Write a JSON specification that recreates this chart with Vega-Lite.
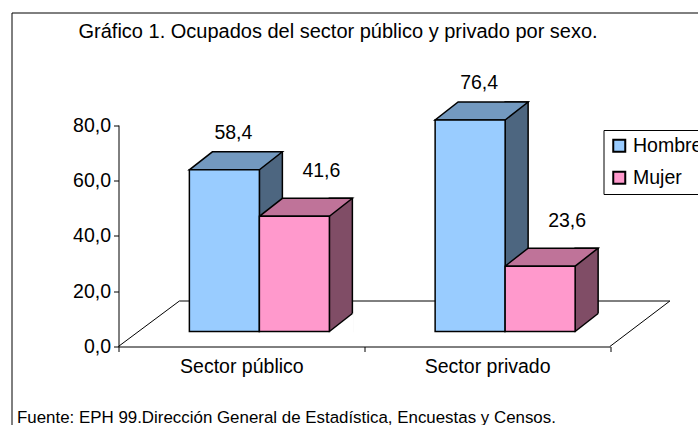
{
  "$schema": "https://vega.github.io/schema/vega-lite/v6.json",
  "width": 690,
  "height": 416,
  "autosize": {"type": "none"},
  "padding": {"left": 11.5, "top": 12.5, "right": -3.5, "bottom": -3.5},
  "background": "white",
  "title": {
    "text": "Gráfico 1. Ocupados del sector público y privado por sexo.",
    "anchor": "start",
    "frame": "group",
    "dx": 67,
    "dy": 19.5,
    "offset": -26,
    "baseline": "alphabetic",
    "font": "Liberation Sans",
    "fontSize": 20,
    "fontWeight": "normal",
    "color": "black"
  },
  "data": {
    "values": [
      {"sector": "Sector público", "sex": "Hombre", "value": 58.4},
      {"sector": "Sector público", "sex": "Mujer", "value": 41.6},
      {"sector": "Sector privado", "sex": "Hombre", "value": 76.4},
      {"sector": "Sector privado", "sex": "Mujer", "value": 23.6}
    ]
  },
  "config": {
    "font": "Liberation Sans",
    "view": {"stroke": "black", "strokeWidth": 1},
    "locale": {"number": {"decimal": ",", "thousands": ".", "grouping": [3], "currency": ["$", ""]}},
    "axis": {
      "grid": false,
      "domainColor": "black",
      "tickColor": "black",
      "labelColor": "black",
      "labelFont": "Liberation Sans",
      "labelFontSize": 19.5,
      "tickSize": 5,
      "domainWidth": 1,
      "tickWidth": 1
    },
    "axisX": {
      "offset": -82,
      "tickBand": "extent",
      "labelAngle": 0,
      "labelPadding": 6,
      "titleX": 5,
      "titleY": 75.5,
      "titleAlign": "left",
      "titleBaseline": "alphabetic",
      "titleFont": "Liberation Sans",
      "titleFontSize": 16.9,
      "titleFontWeight": "normal",
      "titleColor": "black"
    },
    "axisY": {"offset": -107, "tickCount": 4, "format": ".1f", "labelPadding": 3},
    "legend": {
      "orient": "none",
      "legendX": 592,
      "legendY": 117.5,
      "symbolType": "square",
      "symbolSize": 144,
      "symbolStrokeColor": "black",
      "symbolStrokeWidth": 2,
      "symbolOpacity": 1,
      "labelFont": "Liberation Sans",
      "labelFontSize": 19.5,
      "labelColor": "black",
      "labelOffset": 4,
      "strokeColor": "black",
      "fillColor": "white",
      "padding": 6,
      "rowPadding": 11
    }
  },
  "encoding": {
    "x": {
      "field": "sector",
      "type": "nominal",
      "scale": {"domain": ["Sector público", "Sector privado"], "range": [107, 598.5], "paddingInner": 0, "paddingOuter": 0},
      "axis": {"title": "Fuente: EPH 99.Dirección General de Estadística, Encuestas y Censos."}
    },
    "y": {
      "field": "value",
      "type": "quantitative",
      "scale": {"domain": [0, 80], "range": [334, 112.5], "nice": false, "zero": true},
      "axis": {"title": null}
    }
  },
  "layer": [
    {
      "transform": [{"filter": "datum.sector === 'Sector público' && datum.sex === 'Hombre'"}],
      "mark": {"type": "point", "shape": "M-123,0L-62,-45.5L428.5,-45.5L368.5,0", "size": 4, "filled": false, "color": "black", "strokeWidth": 1, "opacity": 1},
      "encoding": {"y": {"datum": 0, "type": "quantitative"}}
    },
    {
      "transform": [{"filter": "datum.sex === 'Hombre'"}],
      "mark": {"type": "bar", "width": 23, "xOffset": 29.5, "yOffset": -33, "y2Offset": -15, "fill": "#4d6680", "stroke": "black", "strokeWidth": 1.5},
      "encoding": {"y2": {"datum": 0}}
    },
    {
      "transform": [{"filter": "datum.sex === 'Mujer'"}],
      "mark": {"type": "bar", "width": 23, "xOffset": 99.5, "yOffset": -33, "y2Offset": -15, "fill": "#804d66", "stroke": "black", "strokeWidth": 1.5},
      "encoding": {"y2": {"datum": 0}}
    },
    {
      "transform": [{"filter": "datum.sex === 'Hombre'"}],
      "mark": {"type": "point", "shape": "M0,0L23,-18L24.5,-18L24.5,1.5L0,1.5Z", "size": 4, "filled": true, "color": "white", "strokeOpacity": 0, "opacity": 1, "xOffset": 18, "yOffset": -15},
      "encoding": {"y": {"datum": 0, "type": "quantitative"}}
    },
    {
      "transform": [{"filter": "datum.sex === 'Mujer'"}],
      "mark": {"type": "point", "shape": "M0,0L23,-18L24.5,-18L24.5,1.5L0,1.5Z", "size": 4, "filled": true, "color": "white", "strokeOpacity": 0, "opacity": 1, "xOffset": 88, "yOffset": -15},
      "encoding": {"y": {"datum": 0, "type": "quantitative"}}
    },
    {
      "transform": [{"filter": "datum.sex === 'Hombre'"}],
      "mark": {"type": "point", "shape": "M0,0L23,-18", "size": 4, "filled": false, "color": "black", "strokeWidth": 1.5, "opacity": 1, "xOffset": 18, "yOffset": -15},
      "encoding": {"y": {"datum": 0, "type": "quantitative"}}
    },
    {
      "transform": [{"filter": "datum.sex === 'Mujer'"}],
      "mark": {"type": "point", "shape": "M0,0L23,-18", "size": 4, "filled": false, "color": "black", "strokeWidth": 1.5, "opacity": 1, "xOffset": 88, "yOffset": -15},
      "encoding": {"y": {"datum": 0, "type": "quantitative"}}
    },
    {
      "transform": [{"filter": "datum.sex === 'Hombre'"}],
      "mark": {"type": "point", "shape": "M0,0L70,0L93,-18L23,-18Z", "size": 4, "filled": true, "fill": "#7399bf", "stroke": "black", "strokeWidth": 1.5, "opacity": 1, "xOffset": -52, "yOffset": -15}
    },
    {
      "transform": [{"filter": "datum.sex === 'Mujer'"}],
      "mark": {"type": "point", "shape": "M0,0L70,0L93,-18L23,-18Z", "size": 4, "filled": true, "fill": "#bf7399", "stroke": "black", "strokeWidth": 1.5, "opacity": 1, "xOffset": 18, "yOffset": -15}
    },
    {
      "transform": [{"filter": "datum.sex === 'Hombre'"}],
      "mark": {"type": "bar", "width": 70, "stroke": "black", "strokeWidth": 1.5, "xOffset": -17, "yOffset": -15},
      "encoding": {
        "color": {
          "field": "sex",
          "type": "nominal",
          "scale": {"domain": ["Hombre", "Mujer"], "range": ["#99ccff", "#ff99cc"]},
          "legend": {"title": null}
        }
      }
    },
    {
      "transform": [{"filter": "datum.sex === 'Mujer'"}],
      "mark": {"type": "bar", "width": 70, "stroke": "black", "strokeWidth": 1.5, "xOffset": 53, "yOffset": -15},
      "encoding": {
        "color": {
          "field": "sex",
          "type": "nominal",
          "scale": {"domain": ["Hombre", "Mujer"], "range": ["#99ccff", "#ff99cc"]},
          "legend": {"title": null}
        }
      }
    },
    {
      "transform": [{"filter": "datum.sex === 'Hombre'"}],
      "mark": {"type": "text", "font": "Liberation Sans", "fontSize": 19.5, "color": "black", "baseline": "middle", "align": "center", "xOffset": -8, "yOffset": -15, "dy": -37},
      "encoding": {"text": {"field": "value", "type": "quantitative", "format": ".1f"}}
    },
    {
      "transform": [{"filter": "datum.sex === 'Mujer'"}],
      "mark": {"type": "text", "font": "Liberation Sans", "fontSize": 19.5, "color": "black", "baseline": "middle", "align": "center", "xOffset": 80, "yOffset": -15, "dy": -45.5},
      "encoding": {"text": {"field": "value", "type": "quantitative", "format": ".1f"}}
    }
  ]
}
